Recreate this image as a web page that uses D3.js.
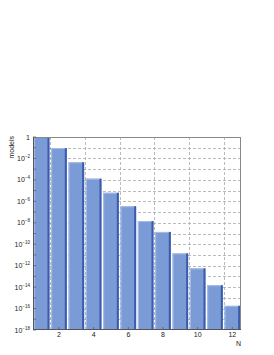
<!DOCTYPE html>
<html><head><meta charset="utf-8">
<script src="https://cdn.jsdelivr.net/npm/d3@7"></script>
<style>body{margin:0;background:#fff}svg{display:block}text{font-family:"Liberation Sans",Arial,sans-serif;fill:#222}</style>
</head><body>
<script>
const N = [1,2,3,4,5,6,7,8,9,10,11,12];
const models = [1, 9.3e-2, 4.4e-3, 1.3e-4, 6.3e-6, 3.5e-7, 1.45e-8, 1.4e-9, 1.4e-11, 5.6e-13, 1.5e-14, 1.8e-16];
const xTicks = [2,4,6,8,10,12];
const yTickExp = [0,-2,-4,-6,-8,-10,-12,-14,-16,-18];
const gridX = [1.5,3.5,5.5,7.5,9.5,11.5];

const W=274,H=355;
const L=33,R=241,T=137,B=330;
const svg=d3.select("body").append("svg").attr("width",W).attr("height",H);
const x=d3.scaleLinear().domain([0.5,12.5]).range([L,R]);
const y=d3.scaleLog().domain([1e-18,1]).range([B,T]);

// grid
const decades=d3.range(-17,0).map(e=>Math.pow(10,e));
svg.append("g").selectAll("line").data(decades).join("line")
  .attr("x1",L).attr("x2",R).attr("y1",d=>Math.round(y(d))+0.5).attr("y2",d=>Math.round(y(d))+0.5)
  .attr("stroke","#aaa").attr("stroke-width",0.8).attr("stroke-dasharray","3,2");
svg.append("g").selectAll("line").data(gridX).join("line")
  .attr("y1",T).attr("y2",B).attr("x1",d=>Math.round(x(d))+0.5).attr("x2",d=>Math.round(x(d))+0.5)
  .attr("stroke","#aaa").attr("stroke-width",0.8).attr("stroke-dasharray","3,2");

// bars
const bars=svg.append("g").selectAll("g").data(N.map((n,i)=>({n,v:models[i]}))).join("g");
bars.append("rect").attr("x",d=>x(d.n-0.45)).attr("width",d=>x(d.n+0.45)-x(d.n-0.45))
  .attr("y",d=>y(d.v)).attr("height",d=>B-y(d.v)).attr("fill","#7b9bd6");
bars.append("rect").attr("x",d=>x(d.n+0.45)-2).attr("width",2)
  .attr("y",d=>y(d.v)).attr("height",d=>B-y(d.v)).attr("fill","#3a5cad");
bars.append("rect").attr("x",d=>x(d.n-0.45)).attr("width",1)
  .attr("y",d=>y(d.v)).attr("height",d=>B-y(d.v)).attr("fill","#a8bde8");
bars.append("rect").attr("x",d=>x(d.n-0.45)).attr("width",d=>x(d.n+0.45)-x(d.n-0.45)-2)
  .attr("y",d=>y(d.v)).attr("height",1).attr("fill","#a8bde8");

// frame
svg.append("rect").attr("x",L+0.5).attr("y",T+0.5).attr("width",R-L-1).attr("height",B-T-1)
  .attr("fill","none").attr("stroke","#888").attr("stroke-width",1);
svg.append("line").attr("x1",L).attr("x2",R).attr("y1",B-0.5).attr("y2",B-0.5).attr("stroke","#555");
svg.append("line").attr("x1",L+0.5).attr("x2",L+0.5).attr("y1",T).attr("y2",B).attr("stroke","#555");

// y ticks marks
svg.append("g").selectAll("line").data(d3.range(-18,1).map(e=>Math.pow(10,e))).join("line")
  .attr("x1",L).attr("x2",L+3).attr("y1",d=>y(d)).attr("y2",d=>y(d)).attr("stroke","#555").attr("stroke-width",0.7);
// x tick marks
svg.append("g").selectAll("line").data(xTicks).join("line")
  .attr("x1",d=>x(d)).attr("x2",d=>x(d)).attr("y1",B).attr("y2",B-3).attr("stroke","#555").attr("stroke-width",0.7);

// y labels
const yl=svg.append("g").selectAll("text").data(yTickExp).join("text")
  .attr("x",30).attr("y",d=>y(Math.pow(10,d))+2.5).attr("text-anchor","end").attr("font-size",7);
yl.each(function(e){
  const t=d3.select(this);
  if(e===0){t.text("1");}
  else{t.append("tspan").text("10");t.append("tspan").attr("dy",-3).attr("font-size",4.5).text(String(e).replace("-","\u2212"));}
});

// x labels
svg.append("g").selectAll("text").data(xTicks).join("text")
  .attr("x",d=>x(d)).attr("y",337).attr("text-anchor","middle").attr("font-size",7).text(d=>d);

svg.append("text").attr("x",241).attr("y",346).attr("text-anchor","end").attr("font-size",7).text("N");
svg.append("text").attr("transform","translate(14,136) rotate(-90)").attr("text-anchor","end").attr("font-size",7).text("models");
</script>
</body></html>
